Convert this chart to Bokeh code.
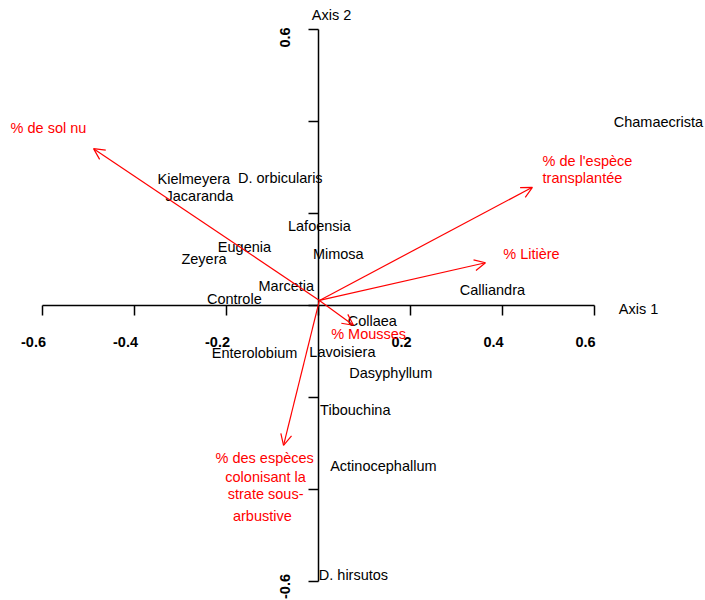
import math
from bokeh.plotting import figure
from bokeh.models import Range1d, ColumnDataSource, Arrow, OpenHead
from bokeh.core.properties import value
from bokeh.embed import file_html
from bokeh.resources import INLINE

# ---- data ----
sites = ["Chamaecrista", "Kielmeyera", "D. orbicularis", "Jacaranda", "Lafoensia",
         "Eugenia", "Zeyera", "Mimosa", "Marcetia", "Controle", "Calliandra",
         "Collaea", "Enterolobium", "Lavoisiera", "Dasyphyllum", "Tibouchina",
         "Actinocephallum", "D. hirsutos"]
site_x = [0.739, -0.271, -0.083, -0.259, 0.002, -0.161, -0.249, 0.043, -0.070,
          -0.183, 0.378, 0.117, -0.139, 0.052, 0.157, 0.080, 0.141, 0.076]
site_y = [0.400, 0.276, 0.278, 0.239, 0.172, 0.128, 0.102, 0.113, 0.043,
          0.015, 0.033, -0.033, -0.104, -0.100, -0.146, -0.228, -0.348, -0.585]

var_x = [-0.489, 0.465, 0.363, 0.076, -0.076]
var_y = [0.341, 0.257, 0.093, -0.043, -0.304]
origin_x, origin_y = 0.002, 0.011

var_label_lines = ["% de sol nu", "% de l'espèce", "transplantée", "% Litière",
                   "% Mousses", "% des espèces", "colonisant la", "strate sous-",
                   "arbustive"]
var_label_x = [-0.587, 0.487, 0.487, 0.463, 0.109, -0.117, -0.115, -0.115, -0.122]
var_label_y = [0.385, 0.315, 0.278, 0.113, -0.061, -0.332, -0.372, -0.409, -0.457]
var_label_align = ["center", "left", "left", "center", "center", "center",
                   "center", "center", "center"]

x_ticks = [-0.6, -0.4, -0.2, 0.0, 0.2, 0.4, 0.6]
x_tick_labels = ["-0.6", "-0.4", "-0.2", "", "0.2", "0.4", "0.6"]
y_ticks = [-0.6, -0.4, -0.2, 0.0, 0.2, 0.4, 0.6]
y_tick_labels = ["-0.6", "", "", "", "", "", "0.6"]

# ---- figure ----
PX = 460.0  # pixels per data unit
W, H = 705, 600
x0_px, y0_px = 318, 305  # origin in figure pixels
p = figure(width=W, height=H,
           x_range=Range1d(-x0_px / PX, (W - x0_px) / PX),
           y_range=Range1d(-(H - y0_px) / PX, y0_px / PX),
           output_backend="svg", toolbar_location=None, min_border=0)
p.min_border_left = p.min_border_right = p.min_border_top = p.min_border_bottom = 0
p.axis.visible = False
p.grid.visible = False
p.outline_line_color = None

FONT = value("Liberation Sans")
FS = "14.5px"
tick = 10 / PX

# axes lines
p.segment(x0=[min(x_ticks), 0], y0=[0, min(y_ticks)], x1=[max(x_ticks), 0], y1=[0, max(y_ticks)],
          line_color="black", line_width=1.5)
# x ticks
p.segment(x0=x_ticks, y0=[0] * len(x_ticks), x1=x_ticks, y1=[-tick] * len(x_ticks),
          line_color="black", line_width=1.5)
p.text(x=x_ticks, y=[0] * len(x_ticks), text=x_tick_labels, x_offset=-9, y_offset=36,
       text_font=FONT, text_font_size=FS, text_font_style="bold",
       text_align="center", text_baseline="middle", text_color="black")
# y ticks
p.segment(x0=[0] * len(y_ticks), y0=y_ticks, x1=[-tick] * len(y_ticks), y1=y_ticks,
          line_color="black", line_width=1.5)
y_lab_off = [5 if t < 0 else 8 for t in y_ticks]
p.text(x=[0] * len(y_ticks), y=y_ticks, text=y_tick_labels, x_offset=-34, y_offset=y_lab_off,
       angle=math.pi / 2,
       text_font=FONT, text_font_size=FS, text_font_style="bold",
       text_align="center", text_baseline="middle", text_color="black")
# axis titles
p.text(x=[max(x_ticks)], y=[0], text=["Axis 1"], x_offset=44, y_offset=3,
       text_font=FONT, text_font_size=FS, text_align="center", text_baseline="middle")
p.text(x=[0], y=[max(y_ticks)], text=["Axis 2"], x_offset=13, y_offset=-15,
       text_font=FONT, text_font_size=FS, text_align="center", text_baseline="middle")

# site labels
p.text(x=site_x, y=site_y, text=sites, text_font=FONT, text_font_size=FS,
       text_align="center", text_baseline="middle", text_color="black")

# variable arrows
src = ColumnDataSource(dict(x0=[origin_x] * len(var_x), y0=[origin_y] * len(var_y),
                            x1=var_x, y1=var_y))
p.add_layout(Arrow(source=src, x_start="x0", y_start="y0", x_end="x1", y_end="y1",
                   line_color="red", line_width=1.2,
                   end=OpenHead(size=11, line_color="red", line_width=1.2)))
p.text(x=var_label_x, y=var_label_y, text=var_label_lines, text_font=FONT,
       text_font_size=FS, text_align=var_label_align, text_baseline="middle",
       text_color="red")

open("out.html", "w").write(file_html(p, INLINE))
